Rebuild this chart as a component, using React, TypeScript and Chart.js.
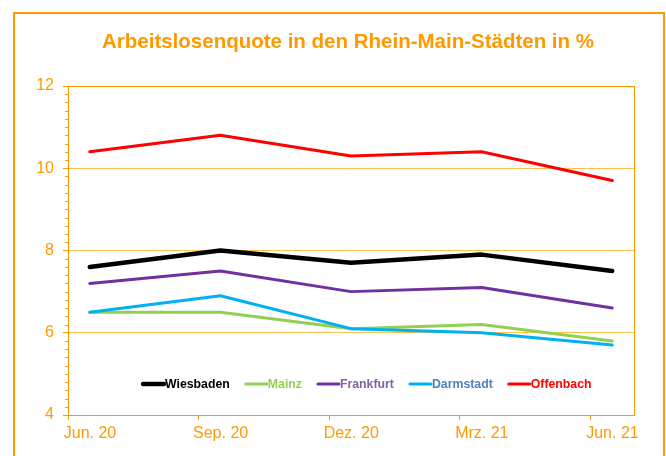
import React, { useEffect, useRef } from "react";
import { Chart, registerables } from "chart.js";

Chart.register(...registerables);

const categories = ["Jun. 20", "Sep. 20", "Dez. 20", "Mrz. 21", "Jun. 21"];
const wiesbaden = [7.6, 8.0, 7.7, 7.9, 7.5];
const mainz = [6.5, 6.5, 6.1, 6.2, 5.8];
const frankfurt = [7.2, 7.5, 7.0, 7.1, 6.6];
const darmstadt = [6.5, 6.9, 6.1, 6.0, 5.7];
const offenbach = [10.4, 10.8, 10.3, 10.4, 9.7];
const yTicks = [4, 6, 8, 10, 12];
const titleText = "Arbeitslosenquote in den Rhein-Main-Städten in %";

const ORANGE = "#FF9900";
const GRID = "#FFC04D";
const FONT = "'Liberation Sans', Arial, sans-serif";

const series = [
  { label: "Wiesbaden", data: wiesbaden, color: "#000000", text: "#000000", width: 4.5 },
  { label: "Mainz", data: mainz, color: "#92D050", text: "#92D050", width: 3 },
  { label: "Frankfurt", data: frankfurt, color: "#7030A0", text: "#8064A2", width: 3 },
  { label: "Darmstadt", data: darmstadt, color: "#00B0F0", text: "#4F81BD", width: 3 },
  { label: "Offenbach", data: offenbach, color: "#FF0000", text: "#FF0000", width: 3 },
];

// months from Jun 2020; each quarter = 3 months, values plotted mid-month
const xOf = (i: number) => i * 3 + 0.5;

const decorPlugin = {
  id: "decor",
  beforeDraw(chart: any) {
    const ctx = chart.ctx;
    ctx.save();
    ctx.fillStyle = "#ffffff";
    ctx.fillRect(0, 0, chart.width, chart.height);
    ctx.strokeStyle = ORANGE;
    ctx.lineWidth = 2;
    ctx.strokeRect(14, 13, 650, 600);
    ctx.fillStyle = ORANGE;
    ctx.font = `bold 20.5px ${FONT}`;
    ctx.textAlign = "center";
    ctx.textBaseline = "alphabetic";
    ctx.fillText(titleText, 348, 48);
    ctx.restore();
  },
  afterDraw(chart: any) {
    const ctx = chart.ctx;
    const area = chart.chartArea;
    const yScale = chart.scales.y;
    ctx.save();
    // plot area border
    ctx.strokeStyle = ORANGE;
    ctx.lineWidth = 1;
    ctx.strokeRect(Math.round(area.left) + 0.5, Math.round(area.top) + 0.5, Math.round(area.right - area.left), Math.round(area.bottom - area.top));
    // minor ticks every 0.2
    ctx.beginPath();
    for (let k = 0; k <= 40; k++) {
      if (k % 10 === 0) continue;
      const v = 4 + k * 0.2;
      const py = Math.round(yScale.getPixelForValue(v)) + 0.5;
      ctx.moveTo(area.left - 3, py);
      ctx.lineTo(area.left, py);
    }
    ctx.stroke();
    // legend
    let x = area.left + 74;
    const y = area.bottom - 31;
    ctx.font = `bold 12.3px ${FONT}`;
    ctx.textBaseline = "middle";
    ctx.textAlign = "left";
    chart.data.datasets.forEach((ds: any, i: number) => {
      const s = series[i];
      ctx.strokeStyle = ds.borderColor;
      ctx.lineWidth = ds.borderWidth;
      ctx.lineCap = "round";
      ctx.beginPath();
      ctx.moveTo(x + 1, y);
      ctx.lineTo(x + 22, y);
      ctx.stroke();
      x += 23;
      ctx.fillStyle = s.text;
      ctx.fillText(ds.label, x, y + 1);
      x += ctx.measureText(ds.label).width + 15;
    });
    ctx.restore();
  },
};

export default function App() {
  const ref = useRef<HTMLCanvasElement>(null);
  useEffect(() => {
    if (!ref.current) return;
    const chart = new Chart(ref.current, {
      type: "line",
      data: {
        datasets: series.map((s, i) => ({
          label: s.label,
          data: s.data.map((v, j) => ({ x: xOf(j), y: v })),
          borderColor: s.color,
          backgroundColor: s.color,
          borderWidth: s.width,
          pointRadius: 0,
          tension: 0,
          borderCapStyle: "round",
          borderJoinStyle: "round",
          order: series.length - i,
        })),
      },
      options: {
        responsive: false,
        animation: false,
        events: [],
        layout: { padding: { left: 0, top: 86, right: 32, bottom: 0 } },
        plugins: {
          legend: { display: false },
          title: { display: false },
          tooltip: { enabled: false },
        },
        scales: {
          x: {
            type: "linear",
            min: 0,
            max: 13,
            afterBuildTicks: (scale: any) => {
              scale.ticks = categories.map((_, i) => ({ value: i * 3 }));
            },
            afterFit: (scale: any) => {
              scale.height = 41;
            },
            ticks: {
              callback: (_v: any, i: number) => categories[i],
              color: ORANGE,
              font: { family: FONT, size: 16 },
              labelOffset: 22,
              padding: 4,
              maxRotation: 0,
              autoSkip: false,
            },
            grid: {
              drawOnChartArea: false,
              drawTicks: true,
              tickLength: 5,
              tickColor: ORANGE,
            },
            border: { color: ORANGE, width: 1 },
          },
          y: {
            min: 4,
            max: 12,
            afterBuildTicks: (scale: any) => {
              scale.ticks = yTicks.map((v) => ({ value: v }));
            },
            afterFit: (scale: any) => {
              scale.width = 68;
            },
            ticks: {
              color: ORANGE,
              font: { family: FONT, size: 16 },
              padding: 9,
            },
            grid: {
              color: GRID,
              tickLength: 5,
              tickColor: ORANGE,
            },
            border: { color: ORANGE, width: 1 },
          },
        },
      },
      plugins: [decorPlugin],
    } as any);
    return () => chart.destroy();
  }, []);
  return (
    <div style={{ position: "absolute", left: 0, top: 0, width: 666, height: 456 }}>
      <canvas ref={ref} width={666} height={456} style={{ width: 666, height: 456, display: "block" }} />
    </div>
  );
}
